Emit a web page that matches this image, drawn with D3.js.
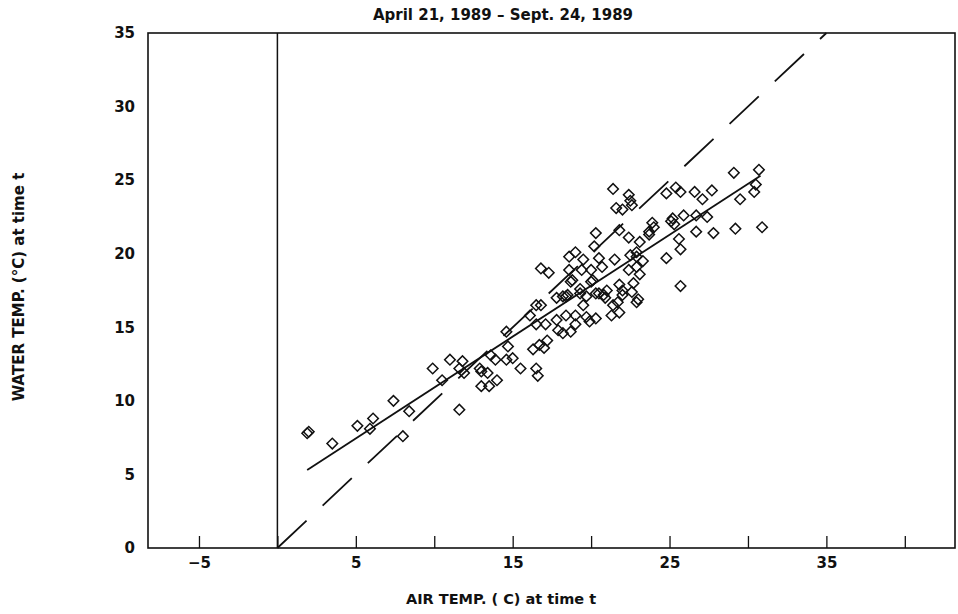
<!DOCTYPE html>
<html>
<head>
<meta charset="utf-8">
<script src="https://cdn.jsdelivr.net/npm/d3@7"></script>
<style>
  body { margin: 0; background: #fff; }
  text { font-family: "DejaVu Sans", sans-serif; fill: #111; }
</style>
</head>
<body>
<div id="chartholder"></div>
<script>
// air temp (x) vs water temp (y) readings
var airTemp = [1.9, 2.0, 3.5, 5.1, 5.9, 6.1, 7.4, 8.4, 8.0, 9.9, 10.5, 11.0, 11.6, 11.8, 11.6, 11.9,
  12.9, 13.0, 13.0, 13.5, 13.4, 13.6, 13.9, 14.0,
  14.6, 14.7, 14.6, 15.0, 15.5, 16.5, 16.6, 16.1, 16.5, 16.8, 16.5, 17.1, 16.3, 16.7, 17.0, 17.2,
  16.8, 17.3, 17.8, 17.8, 18.2, 17.9, 18.2, 18.4,
  18.5, 18.7, 19.0, 19.0, 19.3, 18.7, 19.7, 19.5, 19.7, 19.9, 20.3, 20.0, 20.5, 21.0, 20.9, 21.4,
  21.7, 21.3, 21.8, 21.8, 22.0, 22.6, 22.9, 19.0, 18.6, 19.5, 20.5, 21.5, 22.5, 22.9, 22.9, 23.3,
  20.7, 20.0, 19.4, 18.6, 18.8, 20.1, 22.4, 22.9, 23.1, 22.7, 22.0, 23.0, 20.8, 20.3, 19.3, 18.4,
  21.4, 22.4, 22.5, 22.6, 21.6, 22.0, 24.8, 25.4, 25.7, 26.6, 27.1, 27.7, 29.1, 30.7, 30.5, 30.4,
  29.5, 25.9, 26.7, 27.4, 25.2, 25.1, 23.9, 24.0, 23.7, 25.3, 20.3, 21.8, 20.2, 22.4, 23.1, 23.7,
  25.6, 26.7, 27.8, 29.2, 30.9, 25.7, 24.8, 25.7];
var waterTemp = [7.8, 7.9, 7.1, 8.3, 8.1, 8.8, 10.0, 9.3, 7.6, 12.2, 11.4, 12.8, 9.4, 12.7, 12.2, 11.9,
  12.2, 12.0, 11.0, 11.0, 11.9, 13.1, 12.8, 11.4,
  14.7, 13.7, 12.8, 12.9, 12.2, 12.2, 11.7, 15.8, 16.5, 16.5, 15.2, 15.2, 13.5, 13.8, 13.6, 14.1,
  19.0, 18.7, 15.5, 17.0, 17.1, 14.8, 14.6, 15.8,
  17.2, 14.7, 15.8, 15.2, 17.6, 18.1, 17.1, 16.5, 15.7, 15.4, 15.6, 18.1, 17.3, 17.5, 17.0, 16.5,
  16.7, 15.8, 16.0, 17.9, 17.2, 17.4, 16.7, 20.1, 19.8, 19.6, 19.7, 19.6, 19.9, 20.1, 19.8, 19.5,
  19.1, 18.9, 18.9, 18.9, 18.2, 18.2, 18.9, 19.1, 18.6, 18.0, 17.5, 16.9, 17.2, 17.3, 17.3, 17.1,
  24.4, 24.0, 23.6, 23.3, 23.1, 23.0, 24.1, 24.5, 24.2, 24.2, 23.7, 24.3, 25.5, 25.7, 24.7, 24.2,
  23.7, 22.6, 22.6, 22.5, 22.4, 22.2, 22.1, 21.8, 21.5, 22.0, 21.4, 21.6, 20.5, 21.1, 20.8, 21.3,
  21.0, 21.5, 21.4, 21.7, 21.8, 20.3, 19.7, 17.8];

// fitted regression line end points and the 1:1 line
var fitAir = [1.9, 30.8];
var fitWater = [5.3, 25.3];
var oneToOne = [0, 35];

var xTicks = [-5, 0, 5, 10, 15, 20, 25, 30, 35, 40];
var xLabels = [-5, 5, 15, 25, 35];
var yTicks = [0, 5, 10, 15, 20, 25, 30, 35];

var svg = d3.select("#chartholder")
  .append("svg")
  .attr("width", 958)
  .attr("height", 614);

var margin = {top: 33, right: 3, bottom: 66, left: 148},
  width = svg.attr("width") - margin.left - margin.right,
  height = svg.attr("height") - margin.top - margin.bottom;

var g = svg.append("g")
  .attr("transform", "translate(" + margin.left + "," + margin.top + ")");

var x = d3.scaleLinear().domain([-8.25, 43.2]).range([0, width]);
var y = d3.scaleLinear().domain([0, 35]).range([height, 0]);

// x axis, ticks point inward
var xAxis = g.append("g")
  .attr("transform", "translate(0," + height + ")")
  .call(d3.axisBottom(x).tickValues(xTicks).tickSizeInner(-12).tickSizeOuter(0).tickPadding(9)
    .tickFormat(function(d) { return xLabels.indexOf(d) >= 0 ? (d < 0 ? "\u2212" + (-d) : d) : ""; }));
xAxis.select(".domain").remove();
xAxis.selectAll("line").attr("stroke", "#111").attr("stroke-width", 1.3);
xAxis.selectAll("text").style("font-size", "15px").style("font-weight", "bold").attr("fill", "#111");

var yAxis = g.append("g")
  .call(d3.axisLeft(y).tickValues(yTicks).tickSize(0).tickPadding(13));
yAxis.select(".domain").remove();
yAxis.selectAll("text").style("font-size", "15px").style("font-weight", "bold").attr("fill", "#111");

// frame
g.append("rect")
  .attr("width", width)
  .attr("height", height)
  .attr("fill", "none")
  .attr("stroke", "#111")
  .attr("stroke-width", 1.6);

// zero air temp line
g.append("line")
  .attr("x1", x(0)).attr("x2", x(0))
  .attr("y1", 0).attr("y2", height)
  .attr("stroke", "#111")
  .attr("stroke-width", 1.5);

// 1:1 dashed line
g.append("line")
  .attr("x1", x(oneToOne[0])).attr("y1", y(oneToOne[0]))
  .attr("x2", x(oneToOne[1])).attr("y2", y(oneToOne[1]))
  .attr("stroke", "#111")
  .attr("stroke-width", 1.8)
  .attr("stroke-dasharray", "40,22");

// regression line
g.append("line")
  .attr("x1", x(fitAir[0])).attr("y1", y(fitWater[0]))
  .attr("x2", x(fitAir[1])).attr("y2", y(fitWater[1]))
  .attr("stroke", "#111")
  .attr("stroke-width", 1.8);

// diamonds
var diamond = d3.symbol().type(d3.symbolSquare).size(56);
g.selectAll(".pt")
  .data(d3.range(airTemp.length))
  .enter().append("path")
  .attr("class", "pt")
  .attr("d", diamond)
  .attr("transform", function(i) { return "translate(" + x(airTemp[i]) + "," + y(waterTemp[i]) + ") rotate(45)"; })
  .attr("fill", "none")
  .attr("stroke", "#111")
  .attr("stroke-width", 1.5);

// title and axis labels
svg.append("text")
  .attr("x", 503).attr("y", 20)
  .attr("text-anchor", "middle")
  .style("font-size", "15px").style("font-weight", "bold")
  .text("April 21, 1989 \u2013 Sept. 24, 1989");

svg.append("text")
  .attr("x", 501).attr("y", 604)
  .attr("text-anchor", "middle")
  .style("font-size", "14.5px").style("font-weight", "bold")
  .text("AIR TEMP. ( C) at time t");

svg.append("text")
  .attr("transform", "translate(24,287) rotate(-90)")
  .attr("text-anchor", "middle")
  .style("font-size", "15px").style("font-weight", "bold")
  .text("WATER TEMP. (\u00B0C) at time t");
</script>
</body>
</html>
